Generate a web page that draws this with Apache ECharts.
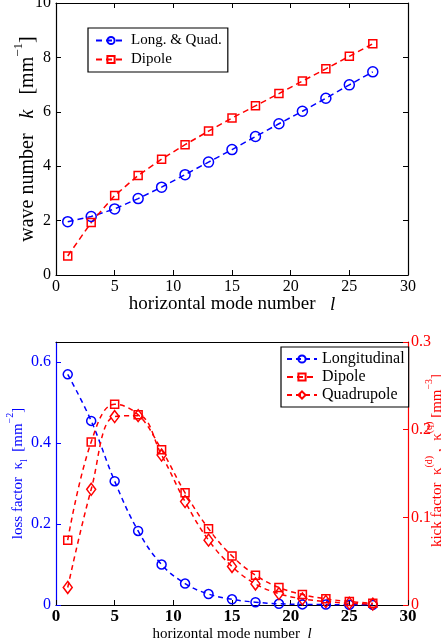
<!DOCTYPE html>
<html>
<head>
<meta charset="utf-8">
<script src="https://cdn.jsdelivr.net/npm/echarts@6/dist/echarts.min.js"></script>
<style>
  html, body { margin: 0; padding: 0; background: #fff; }
  #chart { width: 441px; height: 644px; }
</style>
</head>
<body>
<div id="chart"></div>
<script>
// Horizontal mode numbers shared by both panels
const modes = [1, 3, 5, 7, 9, 11, 13, 15, 17, 19, 21, 23, 25, 27];

// Upper panel: wave number k [mm^-1]
const kLongQuad = [1.96, 2.15, 2.43, 2.81, 3.23, 3.69, 4.15, 4.61, 5.09, 5.56, 6.02, 6.50, 6.99, 7.47];
const kDipole   = [0.70, 1.93, 2.92, 3.66, 4.26, 4.79, 5.29, 5.77, 6.22, 6.67, 7.13, 7.58, 8.04, 8.50];

// Lower panel: loss factor (left axis) and kick factors (right axis)
const lossLong   = [0.570, 0.455, 0.306, 0.183, 0.100, 0.053, 0.027, 0.014, 0.007, 0.003, 0.0015, 0.001, 0.0005, 0.0003];
const kickDipole = [0.074, 0.186, 0.229, 0.217, 0.177, 0.128, 0.087, 0.056, 0.034, 0.020, 0.012, 0.007, 0.004, 0.002];
const kickQuad   = [0.020, 0.132, 0.215, 0.216, 0.171, 0.118, 0.074, 0.044, 0.024, 0.013, 0.007, 0.004, 0.002, 0.001];

const xTicks = { min: 0, max: 30, interval: 5 };

const BLUE = '#0000ff';
const RED = '#ff0000';
const FONT = "'Liberation Serif', 'Times New Roman', serif";

const pairs = (ys) => modes.map((m, i) => [m, ys[i]]);

const chart = echarts.init(document.getElementById('chart'), null, { renderer: 'canvas' });

const tickIn = (color) => ({ show: true, inside: true, length: 5, lineStyle: { color: color, width: 1 } });
const lineOf = (color) => ({ show: true, onZero: false, lineStyle: { color: color, width: 1.2 } });

// Rich-text styles: b = plain, i = italic, s = superscript, d = subscript
function richSet(color, size) {
  const small = Math.round(size * 0.65);
  const lh = size + 6;
  return {
    b: { fontFamily: FONT, fontSize: size, color: color, lineHeight: lh, verticalAlign: 'bottom' },
    i: { fontFamily: FONT, fontSize: size, fontStyle: 'italic', color: color, lineHeight: lh, verticalAlign: 'bottom' },
    s: { fontFamily: FONT, fontSize: small, color: color, lineHeight: lh, verticalAlign: 'top' },
    d: { fontFamily: FONT, fontSize: small, color: color, lineHeight: lh, verticalAlign: 'bottom', padding: [0, 0, -3, 0] }
  };
}

const option = {
  backgroundColor: '#fff',
  animation: false,
  textStyle: { fontFamily: FONT },
  grid: [
    { left: 56, top: 3, width: 352, height: 272, show: false, containLabel: false, outerBoundsMode: 'none' },
    { left: 56, top: 342, width: 352, height: 263, show: false, containLabel: false, outerBoundsMode: 'none' }
  ],
  xAxis: [
    {
      gridIndex: 0, type: 'value', position: 'bottom', ...xTicks,
      axisLine: lineOf('#000'), axisTick: tickIn('#000'), splitLine: { show: false },
      axisLabel: { fontFamily: FONT, fontSize: 16, color: '#000', margin: 4 },
      name: '{b|horizontal mode number   }{i|l}',
      nameLocation: 'middle', nameGap: 14, nameMoveOverlap: false,
      nameTextStyle: { rich: richSet('#000', 19) }
    },
    {
      gridIndex: 0, type: 'value', position: 'top', ...xTicks,
      axisLine: lineOf('#000'), axisTick: tickIn('#000'), splitLine: { show: false },
      axisLabel: { show: false }
    },
    {
      gridIndex: 1, type: 'value', position: 'bottom', ...xTicks,
      axisLine: lineOf('#000'), axisTick: tickIn('#000'), splitLine: { show: false },
      axisLabel: { fontFamily: FONT, fontSize: 17, fontWeight: 'bold', color: '#000', margin: 3 },
      name: '{b|horizontal mode number  }{i|l}',
      nameLocation: 'middle', nameGap: 16, nameMoveOverlap: false,
      nameTextStyle: { rich: richSet('#000', 15) }
    },
    {
      gridIndex: 1, type: 'value', position: 'top', ...xTicks,
      axisLine: lineOf('#000'), axisTick: { show: false }, splitLine: { show: false },
      axisLabel: { show: false }
    }
  ],
  yAxis: [
    {
      gridIndex: 0, type: 'value', position: 'left', min: 0, max: 10, interval: 2,
      axisLine: lineOf('#000'), axisTick: tickIn('#000'), splitLine: { show: false },
      axisLabel: { fontFamily: FONT, fontSize: 16, color: '#000', margin: 5 },
      name: '{b|wave number   }{i|k}{b|   [mm}{s|−1}{b|]}',
      nameLocation: 'middle', nameGap: 18, nameRotate: 90, nameMoveOverlap: false,
      nameTextStyle: { rich: richSet('#000', 20) }
    },
    {
      gridIndex: 0, type: 'value', position: 'right', min: 0, max: 10, interval: 2,
      axisLine: lineOf('#000'), axisTick: tickIn('#000'), splitLine: { show: false },
      axisLabel: { show: false }
    },
    {
      gridIndex: 1, type: 'value', position: 'left', min: 0, max: 0.65, interval: 0.2,
      axisLine: lineOf(BLUE), axisTick: tickIn(BLUE), splitLine: { show: false },
      axisLabel: { fontFamily: FONT, fontSize: 16, color: BLUE, margin: 5, showMaxLabel: false },
      name: '{b|loss factor  κ}{d|l}{b|  [mm}{s|−2}{b|]}',
      nameLocation: 'middle', nameGap: 30, nameRotate: 90, nameMoveOverlap: false,
      nameTextStyle: { rich: richSet(BLUE, 15) }
    },
    {
      gridIndex: 1, type: 'value', position: 'right', min: 0, max: 0.3, interval: 0.1,
      axisLine: lineOf(RED), axisTick: tickIn(RED), splitLine: { show: false },
      axisLabel: { fontFamily: FONT, fontSize: 16, color: RED, margin: 3 },
      name: '{b|kick factor  κ}{s|(d)}{b| ,  κ}{s|(q)}{b| [mm}{s|−3}{b|]}',
      nameLocation: 'middle', nameGap: 16, nameRotate: 90, nameMoveOverlap: false,
      nameTextStyle: { rich: richSet(RED, 15), padding: [0, 0, 0, 26] }
    }
  ],
  legend: [
    {
      data: ['Long. & Quad.', 'Dipole'],
      left: 88, top: 28, orient: 'vertical',
      backgroundColor: '#fff', borderColor: '#000', borderWidth: 1.2, borderRadius: 0,
      padding: [5, 6, 5, 7], itemGap: 4, itemWidth: 30, itemHeight: 9,
      textStyle: { fontFamily: FONT, fontSize: 15, color: '#000' }
    },
    {
      data: ['Longitudinal', 'Dipole', 'Quadrupole'],
      left: 281, top: 347, orient: 'vertical',
      backgroundColor: '#fff', borderColor: '#000', borderWidth: 1.2, borderRadius: 0,
      padding: [4, 4, 4, 5], itemGap: 2, itemWidth: 30, itemHeight: 9,
      textStyle: { fontFamily: FONT, fontSize: 16, color: '#000' }
    }
  ],
  series: [
    {
      name: 'Long. & Quad.', type: 'line', xAxisIndex: 0, yAxisIndex: 0,
      data: pairs(kLongQuad), symbol: 'circle', symbolSize: 10,
      lineStyle: { color: BLUE, width: 1.5, type: [6, 4] },
      itemStyle: { color: 'rgba(0,0,0,0)', borderColor: BLUE, borderWidth: 1.5 }
    },
    {
      name: 'Dipole', type: 'line', xAxisIndex: 0, yAxisIndex: 0,
      data: pairs(kDipole), symbol: 'rect', symbolSize: 8,
      lineStyle: { color: RED, width: 1.5, type: [6, 4] },
      itemStyle: { color: 'rgba(0,0,0,0)', borderColor: RED, borderWidth: 1.5 }
    },
    {
      name: 'Longitudinal', type: 'line', xAxisIndex: 2, yAxisIndex: 2,
      data: pairs(lossLong), symbol: 'circle', symbolSize: 9, smooth: 0.4,
      lineStyle: { color: BLUE, width: 1.5, type: [5, 4] },
      itemStyle: { color: 'rgba(0,0,0,0)', borderColor: BLUE, borderWidth: 1.5 }
    },
    {
      name: 'Dipole', type: 'line', xAxisIndex: 2, yAxisIndex: 3,
      data: pairs(kickDipole), symbol: 'rect', symbolSize: 8, smooth: 0.4,
      lineStyle: { color: RED, width: 1.5, type: [5, 4] },
      itemStyle: { color: 'rgba(0,0,0,0)', borderColor: RED, borderWidth: 1.5 }
    },
    {
      name: 'Quadrupole', type: 'line', xAxisIndex: 2, yAxisIndex: 3,
      data: pairs(kickQuad), symbol: 'diamond', symbolSize: [9, 12], smooth: 0.4,
      lineStyle: { color: RED, width: 1.5, type: [5, 4] },
      itemStyle: { color: 'rgba(0,0,0,0)', borderColor: RED, borderWidth: 1.5 }
    }
  ]
};

chart.setOption(option);
</script>
</body>
</html>
